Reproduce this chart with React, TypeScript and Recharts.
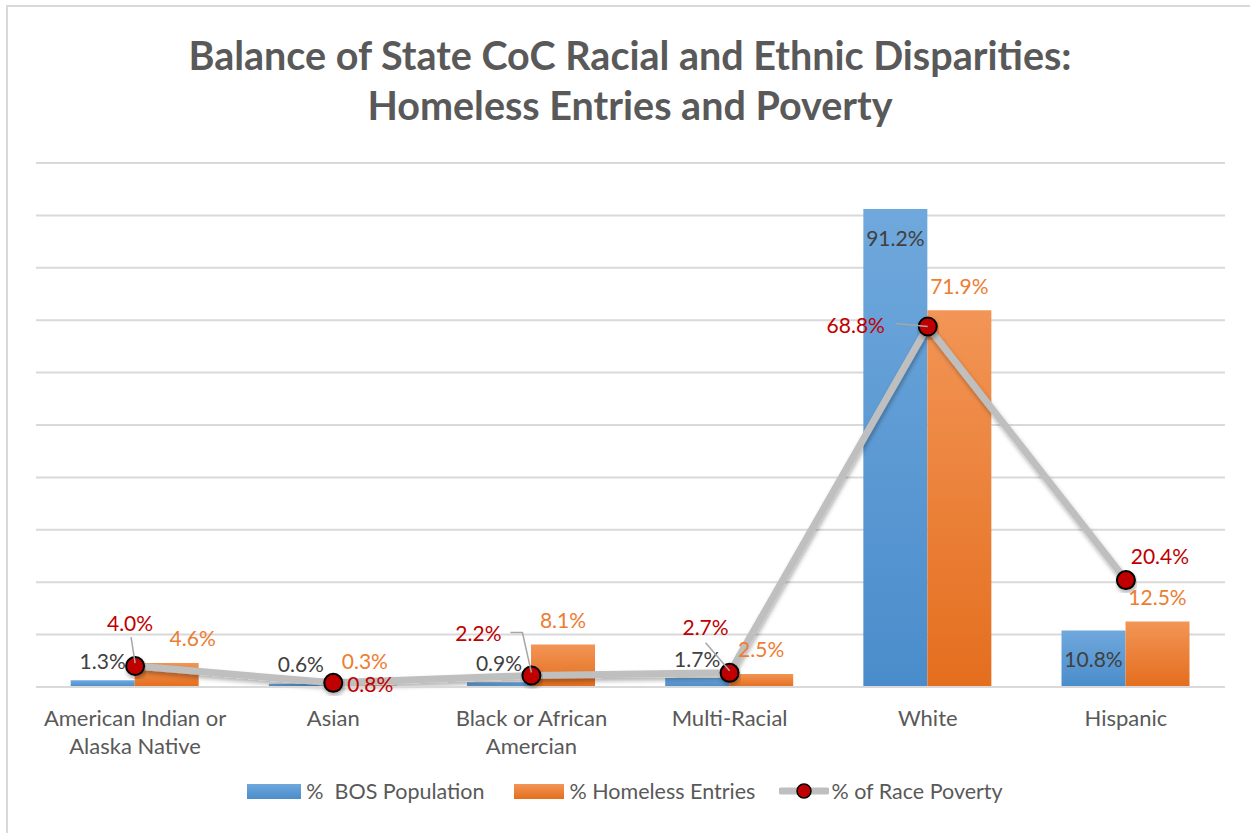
import React from "react";
import {
  Bar,
  CartesianGrid,
  ComposedChart,
  LabelList,
  Legend,
  Line,
  XAxis,
  YAxis,
} from "recharts";

const categories = [
  "American Indian or\nAlaska Native",
  "Asian",
  "Black or African\nAmercian",
  "Multi-Racial",
  "White",
  "Hispanic",
];
const bosPopulation = [1.3, 0.6, 0.9, 1.7, 91.2, 10.8];
const homelessEntries = [4.6, 0.3, 8.1, 2.5, 71.9, 12.5];
const racePoverty = [4.0, 0.8, 2.2, 2.7, 68.8, 20.4];
const yTicks = [0, 10, 20, 30, 40, 50, 60, 70, 80, 90, 100];

const data = categories.map((name, i) => ({
  name,
  bos: bosPopulation[i],
  homeless: homelessEntries[i],
  poverty: racePoverty[i],
}));

// manual label placement (offsets from the marker), like the dragged labels in the original
const povertyLabelPos = [
  { dx: -5, dy: -44, leader: [[-4, -29], [0, -3]] },
  { dx: 37, dy: 1, leader: null },
  { dx: -53, dy: -43, leader: [[-21, -43], [-9, -43], [0, -3]] },
  { dx: -24, dy: -46, leader: [[-24, -30], [0, -2]] },
  { dx: -72, dy: -2, leader: [[-32, -3], [0, 0]] },
  { dx: 34, dy: -25, leader: null },
];

const FONT = "Lato, 'Open Sans', sans-serif";
const GRAY = "#595959";

const BosLabel = (props: any) => {
  const { x, y, width, height, value } = props;
  const cx = x + width / 2;
  const cy = height > 40 ? y + 28 : y - 20;
  return (
    <text x={cx} y={cy} textAnchor="middle" dominantBaseline="central" fill="#404040" fontSize={21} fontFamily={FONT}>
      {value.toFixed(1)}%
    </text>
  );
};

const HomelessLabel = (props: any) => {
  const { x, y, width, value, index } = props;
  const cx = x + width / 2 + (index === 0 ? 26 : 0);
  return (
    <text x={cx} y={y - 25} textAnchor="middle" dominantBaseline="central" fill="#ED7D31" fontSize={21} fontFamily={FONT}>
      {value.toFixed(1)}%
    </text>
  );
};

const PovertyLabel = (props: any) => {
  const { x, y, value, index } = props;
  const p = povertyLabelPos[index];
  return (
    <g>
      {p.leader && (
        <polyline
          points={p.leader.map(([a, b]) => `${x + a},${y + b}`).join(" ")}
          fill="none"
          stroke="#A6A6A6"
          strokeWidth={1.5}
        />
      )}
      <text x={x + p.dx} y={y + p.dy} textAnchor="middle" dominantBaseline="central" fill="#C00000" fontSize={21} fontFamily={FONT}>
        {value.toFixed(1)}%
      </text>
    </g>
  );
};

const CategoryTick = (props: any) => {
  const { x, y, payload } = props;
  const lines = String(payload.value).split("\n");
  return (
    <text x={x} textAnchor="middle" fill={GRAY} fontSize={22} fontFamily={FONT}>
      {lines.map((l, i) => (
        <tspan key={i} x={x} y={y + 22 + i * 28} dominantBaseline="central">
          {l}
        </tspan>
      ))}
    </text>
  );
};

const LegendContent = () => (
  <div
    style={{
      display: "flex",
      justifyContent: "center",
      alignItems: "center",
      fontFamily: FONT,
      fontSize: 21.5,
      color: GRAY,
      whiteSpace: "pre",
    }}
  >
    <div style={{ width: 54, height: 15, background: "linear-gradient(#6FA8DC, #4A8CCB)", marginRight: 5 }} />
    <span>%  BOS Population</span>
    <div style={{ width: 50, height: 15, background: "linear-gradient(#F29556, #E46E1E)", marginLeft: 30, marginRight: 5 }} />
    <span>% Homeless Entries</span>
    <svg width={50} height={20} style={{ marginLeft: 24, marginRight: 2 }}>
      <line x1={2} y1={10} x2={48} y2={10} stroke="#BFBFBF" strokeWidth={7} strokeLinecap="round" />
      <circle cx={25} cy={10} r={7} fill="#C00000" stroke="#000" strokeWidth={1.5} />
    </svg>
    <span>% of Race Poverty</span>
  </div>
);

export default function App() {
  return (
    <div style={{ position: "absolute", left: 0, top: 0, width: 1250, height: 833, overflow: "hidden", background: "#fff" }}>
      <div
        style={{
          position: "absolute",
          left: 6,
          top: 5,
          width: 1270,
          height: 850,
          border: "2px solid #D9D9D9",
          boxSizing: "border-box",
        }}
      />
      <div
        style={{
          position: "absolute",
          left: 0,
          top: 30,
          width: 1260,
          textAlign: "center",
          fontFamily: FONT,
          fontWeight: 700,
          fontSize: 39.5,
          lineHeight: "50px",
          color: GRAY,
        }}
      >
        Balance of State CoC Racial and Ethnic Disparities:
        <br />
        Homeless Entries and Poverty
      </div>
      <div style={{ position: "absolute", left: 0, top: 0 }}>
        <ComposedChart
          width={1250}
          height={833}
          data={data}
          margin={{ top: 163, right: 25, left: 36, bottom: 86 }}
          barCategoryGap="17.5%"
          barGap={0}
        >
          <defs>
            <linearGradient id="blueGrad" x1="0" y1="0" x2="0" y2="1">
              <stop offset="0%" stopColor="#6FA8DC" />
              <stop offset="100%" stopColor="#4A8CCB" />
            </linearGradient>
            <linearGradient id="orangeGrad" x1="0" y1="0" x2="0" y2="1">
              <stop offset="0%" stopColor="#F29556" />
              <stop offset="100%" stopColor="#E46E1E" />
            </linearGradient>
            <filter id="lineShadow" x="-10%" y="-10%" width="120%" height="130%">
              <feDropShadow dx="1" dy="3" stdDeviation="2" floodColor="#000" floodOpacity="0.3" />
            </filter>
          </defs>
          <CartesianGrid vertical={false} stroke="#D9D9D9" strokeWidth={2} />
          <XAxis
            dataKey="name"
            tickLine={false}
            axisLine={{ stroke: "#D9D9D9", strokeWidth: 2 }}
            tick={<CategoryTick />}
            height={60}
            interval={0}
          />
          <YAxis hide domain={[0, 100]} ticks={yTicks} />
          <Legend
            layout="horizontal"
            verticalAlign="middle"
            align="center"
            content={<LegendContent />}
            wrapperStyle={{ top: 778, left: 0, width: 1250 }}
          />
          <Bar dataKey="bos" name="%  BOS Population" fill="url(#blueGrad)" isAnimationActive={false}>
            <LabelList dataKey="bos" content={<BosLabel />} />
          </Bar>
          <Bar dataKey="homeless" name="% Homeless Entries" fill="url(#orangeGrad)" isAnimationActive={false}>
            <LabelList dataKey="homeless" content={<HomelessLabel />} />
          </Bar>
          <Line
            type="linear"
            dataKey="poverty"
            name="% of Race Poverty"
            stroke="#BFBFBF"
            strokeWidth={7}
            filter="url(#lineShadow)"
            dot={{ r: 9, fill: "#C00000", stroke: "#000", strokeWidth: 2 }}
            activeDot={false}
            isAnimationActive={false}
          >
            <LabelList dataKey="poverty" content={<PovertyLabel />} />
          </Line>
        </ComposedChart>
      </div>
    </div>
  );
}
